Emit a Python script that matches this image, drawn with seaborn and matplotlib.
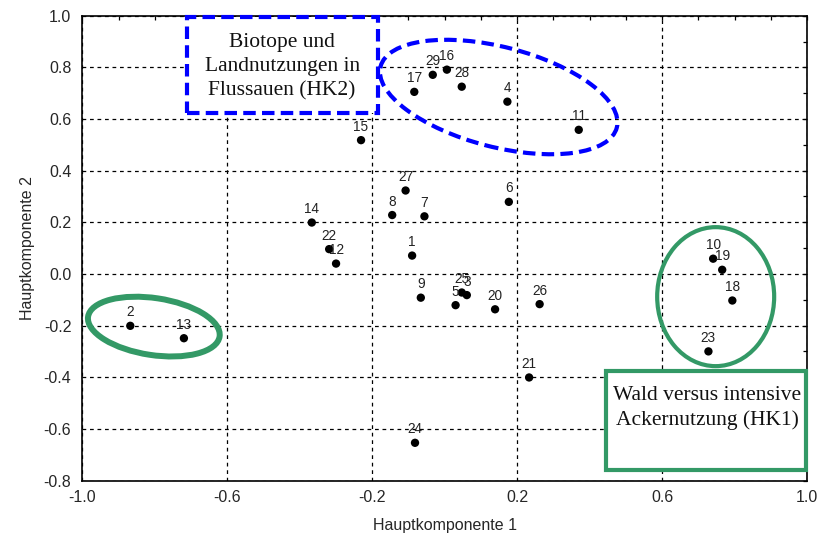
import numpy as np
import pandas as pd
import matplotlib
matplotlib.use("Agg")
import matplotlib.pyplot as plt
import matplotlib.transforms as mtransforms
from matplotlib.patches import Ellipse, Rectangle
from matplotlib.ticker import MultipleLocator, FixedLocator
import seaborn as sns

# ---- data ----
labels = ["1", "2", "3", "4", "5", "6", "7", "8", "9", "10",
          "11", "12", "13", "14", "15", "16", "17", "18", "19", "20",
          "21", "22", "23", "24", "25", "26", "27", "28", "29"]
hk1 = [-0.090, -0.868, 0.061, 0.173, 0.030, 0.177, -0.056, -0.145, -0.066, 0.741,
       0.370, -0.300, -0.720, -0.367, -0.231, 0.006, -0.084, 0.794, 0.766, 0.139,
       0.233, -0.319, 0.728, -0.082, 0.047, 0.262, -0.108, 0.047, -0.033]
hk2 = [0.071, -0.201, -0.082, 0.667, -0.121, 0.279, 0.223, 0.228, -0.092, 0.059,
       0.558, 0.040, -0.249, 0.199, 0.518, 0.791, 0.705, -0.103, 0.016, -0.137,
       -0.401, 0.096, -0.300, -0.654, -0.072, -0.117, 0.323, 0.725, 0.771]
xticks = [-1.0, -0.6, -0.2, 0.2, 0.6, 1.0]
xticklabels = ["-1.0", "-0.6", "-0.2", "0.2", "0.6", "1.0"]
yticks = [-0.8, -0.6, -0.4, -0.2, 0.0, 0.2, 0.4, 0.6, 0.8, 1.0]
yticklabels = ["-0.8", "-0.6", "-0.4", "-0.2", "0.0", "0.2", "0.4", "0.6", "0.8", "1.0"]
box_hk2 = "Biotope und\nLandnutzungen in\nFlussauen (HK2)"
box_hk1 = "Wald versus intensive\nAckernutzung (HK1)"

df = pd.DataFrame({"HK1": hk1, "HK2": hk2, "label": labels})

sns.set_style("white")
plt.rcParams["font.family"] = ["Liberation Sans", "DejaVu Sans"]

fig = plt.figure(figsize=(8.19, 5.37), dpi=100)
ax = fig.add_axes([0.1007, 0.1052, 0.8846, 0.8656])
ax.set_xlim(-1.0, 1.0)
ax.set_ylim(-0.8, 1.0)

BLUE = "#0000ff"
GREEN = "#339966"

# grid
ax.xaxis.set_major_locator(FixedLocator(xticks))
ax.yaxis.set_major_locator(FixedLocator(yticks))
ax.xaxis.set_minor_locator(MultipleLocator(0.1))
ax.yaxis.set_minor_locator(MultipleLocator(0.1))
ax.set_xticklabels(xticklabels)
ax.set_yticklabels(yticklabels)
ax.grid(True, which="major", color="black", linestyle=(0, (3, 3)), linewidth=0.9)
ax.set_axisbelow(True)

sns.scatterplot(data=df, x="HK1", y="HK2", color="black", s=36,
                edgecolor="none", linewidth=0, ax=ax, zorder=3, legend=False)

for lab, x, y in zip(labels, hk1, hk2):
    ax.annotate(lab, (x, y), xytext=(0, 6.8), textcoords="offset points",
                ha="center", va="baseline", fontsize=9.8, color="#222222", zorder=4)

ax.tick_params(which="both", direction="in", top=True, right=True,
               length=3, width=0.9, color="black")
ax.tick_params(axis="x", which="major", labelsize=11.5, pad=7)
ax.tick_params(axis="y", which="major", labelsize=11.5, pad=8)
for sp in ax.spines.values():
    sp.set_color("black")
    sp.set_linewidth(1.2)

ax.set_xlabel("Hauptkomponente 1", fontsize=11.5, labelpad=9)
ax.set_ylabel("Hauptkomponente 2", fontsize=11.5, labelpad=6)

# pixel-like transform for ellipses
sx = ax.bbox.width / 2.0
sy = ax.bbox.height / 1.8
ptrans = mtransforms.Affine2D().scale(1 / sx, 1 / sy) + ax.transData

def ell(cx, cy, w, h, ang, **kw):
    e = Ellipse((cx * sx, cy * sy), w, h, angle=ang, transform=ptrans,
                fill=False, clip_on=False, zorder=5, **kw)
    ax.add_patch(e)

ell(0.149, 0.685, 244, 100, -14.5, edgecolor=BLUE, linewidth=3,
    linestyle=(0, (3.0, 1.5)))
ell(0.748, -0.088, 117, 139, 0, edgecolor=GREEN, linewidth=3)
ell(-0.803, -0.204, 133, 57, -8.6, edgecolor=GREEN, linewidth=4.3)

# boxes
r1 = Rectangle((-0.712, 0.624), 0.528, 0.372, fill=True, facecolor="white",
               edgecolor=BLUE, linewidth=3, linestyle=(0, (3.0, 1.5)),
               clip_on=False, zorder=5)
ax.add_patch(r1)
ax.text(-0.449, 0.803, box_hk2, ha="center", va="center", fontsize=15.5,
        family=["Liberation Serif"], linespacing=1.38, zorder=6, color="#111111")

r2 = Rectangle((0.444, -0.761), 0.553, 0.385, fill=True, facecolor="white",
               edgecolor=GREEN, linewidth=3, clip_on=False, zorder=5)
ax.add_patch(r2)
ax.text(0.725, -0.519, box_hk1, ha="center", va="center", fontsize=15.5,
        family=["Liberation Serif"], linespacing=1.38, zorder=6, color="#111111")

fig.savefig("out.png", dpi=100)
